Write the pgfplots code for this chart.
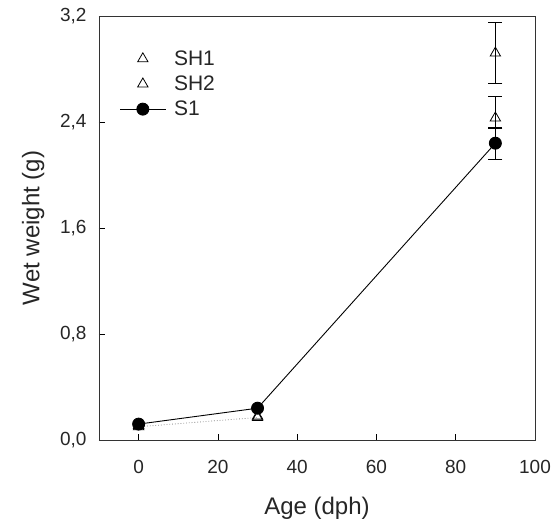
\documentclass[border=0pt]{standalone}
\usepackage{fontspec}
\setmainfont{Liberation Sans}
\usepackage{pgfplots}
\pgfplotsset{compat=1.18}

\begin{document}
\begin{tikzpicture}
\begin{axis}[
    scale only axis,
    width=436pt, height=424pt,
    xmin=-10, xmax=100,
    ymin=0, ymax=3.2,
    xtick={0,20,...,100},
    ytick={0,0.8,1.6,2.4,3.2},
    tick align=inside,
    xtick pos=left, ytick pos=left,
    major tick length=6pt,
    axis line style={black!80, line width=0.8pt},
    tick style={black, line width=0.7pt},
    /pgf/number format/assume math mode=true,
    yticklabel style={/pgf/number format/fixed, /pgf/number format/fixed zerofill,
        /pgf/number format/precision=1, /pgf/number format/use comma,
        anchor=east, xshift=-9pt},
    ticklabel style={font=\fontsize{19}{22}\selectfont, text=black!85},
    xticklabel style={anchor=center, yshift=-27pt},
    xlabel={Age (dph)},
    ylabel={Wet weight (g)},
    label style={font=\fontsize{24}{28}\selectfont, text=black!85},
    xlabel style={at={(axis description cs:0.5,0)}, anchor=center, yshift=-68pt},
    ylabel style={at={(axis description cs:-0.151,0.5)}, anchor=center},
    legend style={draw=none, fill=none, at={(axis description cs:0.04,0.928)}, anchor=north west,
        font=\fontsize{21}{24}\selectfont, row sep=5pt, column sep=6pt, text=black!85},
    legend cell align=left,
    legend image code/.code={\draw[mark repeat=2, mark phase=2, #1]
        plot coordinates {(0cm,0cm) (0.8cm,0cm) (1.6cm,0cm)};},
    error bars/error bar style={black, line width=0.8pt},
    error bars/error mark options={rotate=90, mark size=7pt, line width=0.8pt},
]

% faint dotted trace under the S1 line
\addplot[black!45, dotted, line width=0.8pt, forget plot] coordinates {
    (0,0.10) (30,0.17)
};

\addplot[only marks, mark=triangle, mark size=6pt, black, line width=0.8pt,
    error bars/.cd, y dir=both, y explicit] coordinates {
    (0,0.10)
    (30,0.17)
    (90,2.92) +- (0,0.23)
};
\addlegendentry{SH1}

\addplot[only marks, mark=triangle, mark size=6pt, black, line width=0.8pt,
    error bars/.cd, y dir=both, y explicit] coordinates {
    (0,0.11)
    (30,0.18)
    (90,2.43) += (0,0.16) -= (0,0.08)
};
\addlegendentry{SH2}

\addplot[black, line width=0.9pt, mark=*, mark size=6pt,
    error bars/.cd, y dir=both, y explicit] coordinates {
    (0,0.12)
    (30,0.24)
    (90,2.24) +- (0,0.12)
};
\addlegendentry{S1}

\end{axis}
\pgfresetboundingbox
\path[use as bounding box] ([shift={(-99pt,-89pt)}]current axis.south west) rectangle ++(558pt,529pt);
\end{tikzpicture}
\end{document}
